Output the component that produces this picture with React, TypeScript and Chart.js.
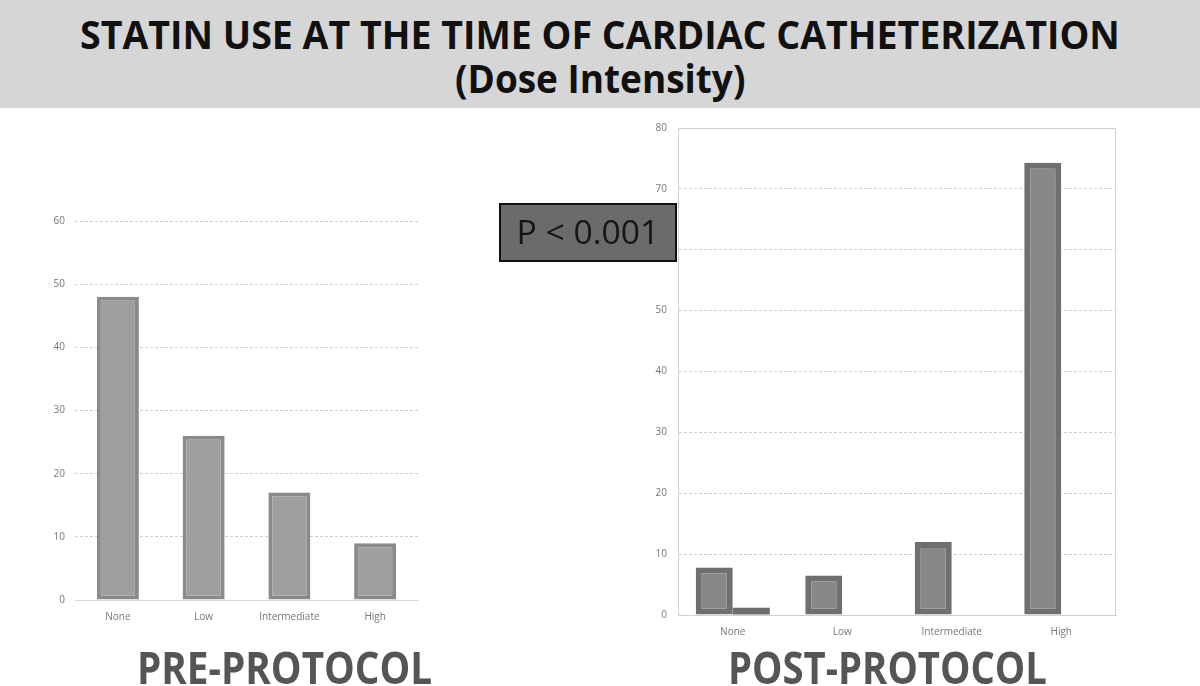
import React, { useEffect, useLayoutEffect, useRef } from "react";
import { Chart, registerables } from "chart.js";

Chart.register(...registerables);

const categories = ["None", "Low", "Intermediate", "High"];
const preValues = [48, 26, 17, 9];
const postValuesMain = [7.8, 6.5, 12, 74.3];
const postValuesSecond = [1.2, 0, 0, 0];
const preAxisMax = 60;
const postAxisMax = 80;
const axisStep = 10;

const titleLine1 = "STATIN USE AT THE TIME OF CARDIAC CATHETERIZATION";
const titleLine2 = "(Dose Intensity)";
const preLabel = "PRE-PROTOCOL";
const postLabel = "POST-PROTOCOL";
const pValueLabel = "P < 0.001";

function makePattern(a: string, b: string): CanvasPattern | string {
  const c = document.createElement("canvas");
  c.width = 2;
  c.height = 2;
  const x = c.getContext("2d");
  if (!x) return a;
  x.fillStyle = a;
  x.fillRect(0, 0, 2, 2);
  x.fillStyle = b;
  x.fillRect(0, 0, 1, 1);
  x.fillRect(1, 1, 1, 1);
  return x.createPattern(c, "repeat") || a;
}

function FitText({ text, width, style }: { text: string; width: number; style: React.CSSProperties }) {
  const ref = useRef<HTMLSpanElement>(null);
  useLayoutEffect(() => {
    const fit = () => {
      const el = ref.current;
      if (!el) return;
      const w = el.offsetWidth;
      if (w) el.style.transform = `scaleX(${width / w})`;
    };
    fit();
    if ((document as any).fonts && (document as any).fonts.ready) {
      (document as any).fonts.ready.then(fit);
    }
  }, [text, width]);
  return (
    <span
      ref={ref}
      style={{ display: "inline-block", whiteSpace: "nowrap", transformOrigin: "center", ...style }}
    >
      {text}
    </span>
  );
}

function Placed({ cx, top, children }: { cx: number; top: number; children: React.ReactNode }) {
  return (
    <div
      style={{
        position: "absolute",
        left: cx - 600,
        width: 1200,
        top,
        textAlign: "center",
        whiteSpace: "nowrap",
      }}
    >
      {children}
    </div>
  );
}

const tickFont = { family: "'Open Sans', 'Liberation Sans', sans-serif", size: 10 };

const boxPlugin = {
  id: "plotBox",
  beforeDatasetsDraw(chart: any) {
    const { ctx, chartArea } = chart;
    ctx.save();
    ctx.strokeStyle = "#d0d0d0";
    ctx.lineWidth = 1;
    ctx.strokeRect(chartArea.left + 0.5, chartArea.top + 0.5, chartArea.right - chartArea.left - 1, chartArea.bottom - chartArea.top);
    ctx.restore();
  },
};

export default function App() {
  const leftRef = useRef<HTMLCanvasElement>(null);
  const rightRef = useRef<HTMLCanvasElement>(null);

  useEffect(() => {
    if (!leftRef.current || !rightRef.current) return;

    const left = new Chart(leftRef.current, {
      type: "bar",
      data: {
        labels: categories,
        datasets: [
          {
            data: preValues,
            backgroundColor: makePattern("#a4a4a4", "#9a9a9a") as any,
            borderColor: "#8a8a8a",
            borderWidth: 4,
            borderSkipped: false,
            barPercentage: 0.49,
            categoryPercentage: 1,
          },
        ],
      },
      options: {
        animation: false,
        responsive: false,
        maintainAspectRatio: false,
        layout: { padding: { top: 21, right: 22, left: 0, bottom: 0 } },
        plugins: { legend: { display: false }, tooltip: { enabled: false }, title: { display: false } },
        scales: {
          x: {
            grid: { display: false, drawTicks: false },
            border: { display: true, color: "#d9d9d9", width: 1 },
            ticks: { color: "#777", font: tickFont, padding: 11 },
            afterFit: (s: any) => {
              s.height = 40;
            },
          },
          y: {
            min: 0,
            max: preAxisMax,
            grid: { color: "#cfcfcf", drawTicks: false },
            border: { display: false, dash: [3, 2] },
            ticks: { stepSize: axisStep, color: "#777", font: tickFont, padding: 10 },
            afterFit: (s: any) => {
              s.width = 75;
            },
          },
        },
      },
    });

    const right = new Chart(rightRef.current, {
      type: "bar",
      data: {
        labels: categories,
        datasets: [
          {
            data: postValuesMain,
            backgroundColor: makePattern("#8e8e8e", "#828282") as any,
            borderColor: "#6f6f6f",
            borderWidth: 6,
            borderSkipped: false,
            barPercentage: 1,
            categoryPercentage: 0.676,
          },
          {
            data: postValuesSecond,
            backgroundColor: "#6e6e6e",
            borderWidth: 0,
            barPercentage: 1,
            categoryPercentage: 0.676,
          },
        ],
      },
      options: {
        animation: false,
        responsive: false,
        maintainAspectRatio: false,
        layout: { padding: { top: 18, right: 24, left: 0, bottom: 0 } },
        plugins: { legend: { display: false }, tooltip: { enabled: false }, title: { display: false } },
        scales: {
          x: {
            grid: { display: false, drawTicks: false },
            border: { display: true, color: "#d0d0d0", width: 1 },
            ticks: { color: "#777", font: tickFont, padding: 11 },
            afterFit: (s: any) => {
              s.height = 25;
            },
          },
          y: {
            min: 0,
            max: postAxisMax,
            grid: { color: "#cfcfcf", drawTicks: false },
            border: { display: true, color: "#d0d0d0", dash: [3, 2] },
            ticks: { stepSize: axisStep, color: "#777", font: tickFont, padding: 11 },
            afterFit: (s: any) => {
              s.width = 58;
            },
          },
        },
      },
      plugins: [boxPlugin],
    });

    return () => {
      left.destroy();
      right.destroy();
    };
  }, []);

  const titleStyle: React.CSSProperties = {
    fontFamily: "'Open Sans', sans-serif",
    fontWeight: 700,
    fontSize: 40,
    lineHeight: "48px",
    color: "#111",
  };
  const footStyle: React.CSSProperties = {
    fontFamily: "'Open Sans', sans-serif",
    fontWeight: 700,
    fontSize: 45,
    lineHeight: "54px",
    color: "#555",
  };

  return (
    <div
      style={{
        position: "fixed",
        left: 0,
        top: 0,
        width: 1200,
        height: 686,
        background: "#fff",
        overflow: "hidden",
      }}
    >
      <div style={{ position: "absolute", left: 0, top: 0, width: 1200, height: 108, background: "#d6d6d6" }} />
      <Placed cx={600} top={10}>
        <FitText text={titleLine1} width={1040} style={titleStyle} />
      </Placed>
      <Placed cx={600} top={54}>
        <FitText text={titleLine2} width={290} style={titleStyle} />
      </Placed>

      <canvas
        ref={leftRef}
        width={440}
        height={440}
        style={{ position: "absolute", left: 0, top: 200, width: 440, height: 440 }}
      />
      <canvas
        ref={rightRef}
        width={520}
        height={530}
        style={{ position: "absolute", left: 620, top: 110, width: 520, height: 530 }}
      />

      <div
        style={{
          position: "absolute",
          left: 499,
          top: 203,
          width: 178,
          height: 59,
          boxSizing: "border-box",
          background: "#6b6b6b",
          border: "2px solid #111",
        }}
      />
      <Placed cx={588} top={213}>
        <FitText
          text={pValueLabel}
          width={143}
          style={{ fontFamily: "'Open Sans', sans-serif", fontWeight: 400, fontSize: 32, lineHeight: "38px", color: "#151515" }}
        />
      </Placed>

      <Placed cx={284.5} top={640}>
        <FitText text={preLabel} width={295} style={footStyle} />
      </Placed>
      <Placed cx={887.5} top={640}>
        <FitText text={postLabel} width={319} style={footStyle} />
      </Placed>
    </div>
  );
}
